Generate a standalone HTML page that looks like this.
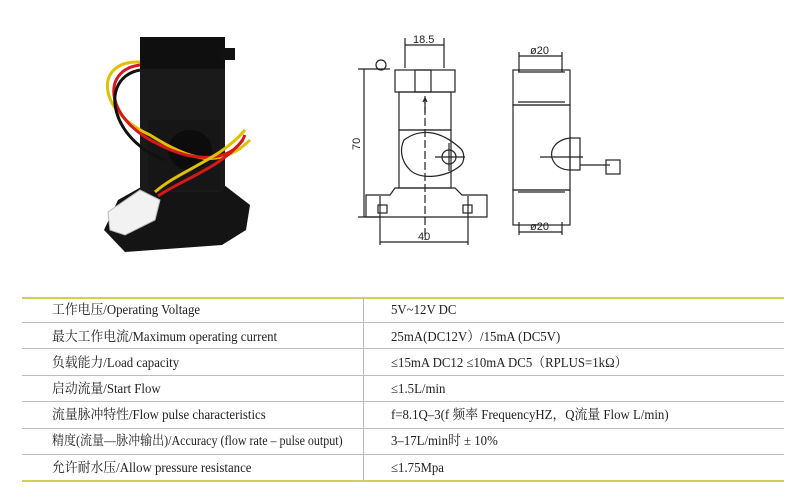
<!DOCTYPE html>
<html><head><meta charset="utf-8"><style>
body{margin:0;width:800px;height:500px;background:#fff;overflow:hidden;position:relative;font-family:"Liberation Serif","Noto Serif CJK SC",serif;}
.t{position:absolute;font-size:13.5px;line-height:16px;height:16px;color:#222;white-space:nowrap;transform:scaleX(0.95);transform-origin:left;}
.h{position:absolute;left:22px;width:762px;height:1px;background:#bdbdbd;}
</style></head><body>
<svg width="800" height="290" style="position:absolute;left:0;top:0">
 <g>
  <path d="M104,230 L118,200 L150,182 L215,178 L250,205 L246,230 L222,245 L125,252 Z" fill="#141414"/>
  <rect x="140" y="37" width="85" height="155" rx="6" fill="#1a1a1a"/>
  <rect x="140" y="37" width="85" height="32" fill="#0f0f0f"/>
  <rect x="220" y="48" width="15" height="12" fill="#111"/>
  <rect x="148" y="120" width="72" height="70" fill="#161616"/>
  <ellipse cx="190" cy="150" rx="22" ry="20" fill="#0c0c0c"/>
  <path d="M140,62 C95,60 95,110 150,135 C190,160 220,170 250,140" stroke="#e0c000" stroke-width="3" fill="none"/>
  <path d="M140,65 C100,70 105,120 160,145 C200,165 235,160 245,135" stroke="#d81818" stroke-width="3" fill="none"/>
  <path d="M140,70 C98,78 110,140 165,160" stroke="#111" stroke-width="3" fill="none"/>
  <path d="M155,192 C180,170 220,160 245,130" stroke="#e0c000" stroke-width="3" fill="none"/>
  <path d="M158,196 C185,178 220,168 243,140" stroke="#d81818" stroke-width="3" fill="none"/>
  <path d="M108,212 L140,190 L160,200 L155,220 L125,235 L110,230 Z" fill="#f2f2f2" stroke="#bbb"/>
 </g>
 <g stroke="#222" stroke-width="1.2" fill="none">
  <line x1="405" y1="38" x2="405" y2="68"/><line x1="444" y1="38" x2="444" y2="68"/>
  <line x1="405" y1="45" x2="444" y2="45"/>
  <text x="413" y="43" font-family="Liberation Sans" font-size="11" fill="#222" stroke="none">18.5</text>
  <circle cx="381" cy="65" r="5"/>
  <line x1="358" y1="69" x2="390" y2="69"/><line x1="358" y1="217" x2="380" y2="217"/>
  <line x1="364" y1="69" x2="364" y2="217"/>
  <text x="360" y="150" font-family="Liberation Sans" font-size="11" fill="#222" stroke="none" transform="rotate(-90 360 150)">70</text>
  <rect x="395" y="70" width="60" height="22"/>
  <rect x="415" y="70" width="16" height="22"/>
  <rect x="399" y="92" width="52" height="38"/>
  <rect x="399" y="130" width="52" height="58"/>
  <path d="M404,140 C420,128 440,130 460,148 C465,152 465,162 460,166 C445,178 420,180 410,170 C400,160 400,148 404,140 Z"/>
  <circle cx="449" cy="157" r="7"/>
  <line x1="435" y1="157" x2="465" y2="157"/><line x1="449" y1="143" x2="449" y2="171"/>
  <line x1="425" y1="96" x2="425" y2="240" stroke-dasharray="8,3"/>
  <path d="M423,102 L425,98 L427,102 M425,98 L425,113"/>
  <path d="M395,188 L455,188 L462,195 L487,195 L487,217 L366,217 L366,195 L390,195 Z"/>
  <rect x="378" y="205" width="9" height="8"/><rect x="463" y="205" width="9" height="8"/>
  <line x1="380" y1="196" x2="380" y2="245"/><line x1="468" y1="196" x2="468" y2="245"/>
  <line x1="380" y1="242" x2="468" y2="242"/>
  <text x="418" y="240" font-family="Liberation Sans" font-size="11" fill="#222" stroke="none">40</text>
  <line x1="519" y1="52" x2="519" y2="72"/><line x1="562" y1="52" x2="562" y2="72"/>
  <line x1="519" y1="56" x2="562" y2="56"/>
  <text x="530" y="54" font-family="Liberation Sans" font-size="11" fill="#222" stroke="none">ø20</text>
  <rect x="513" y="70" width="57" height="35"/>
  <line x1="518" y1="72" x2="565" y2="72"/><line x1="518" y1="102" x2="565" y2="102"/>
  <rect x="513" y="105" width="57" height="85"/>
  <rect x="513" y="190" width="57" height="35"/>
  <line x1="518" y1="192" x2="565" y2="192"/>
  <path d="M570,138 C555,140 550,150 552,158 C555,168 565,170 570,170"/>
  <rect x="570" y="138" width="10" height="32"/>
  <line x1="540" y1="157" x2="583" y2="157"/>
  <line x1="580" y1="165" x2="610" y2="165"/>
  <rect x="606" y="160" width="14" height="14"/>
  <line x1="519" y1="222" x2="519" y2="235"/><line x1="562" y1="222" x2="562" y2="235"/>
  <line x1="519" y1="232" x2="562" y2="232"/>
  <text x="530" y="230" font-family="Liberation Sans" font-size="11" fill="#222" stroke="none">ø20</text>
 </g>
</svg>
<div class="h" style="top:297px;background:#cfcf5a;height:2px"></div>
<div class="h" style="top:322px"></div>
<div class="h" style="top:348px"></div>
<div class="h" style="top:375px"></div>
<div class="h" style="top:401px"></div>
<div class="h" style="top:428px"></div>
<div class="h" style="top:454px"></div>
<div class="h" style="top:480px;background:#cfcf5a;height:2px"></div>
<div style="position:absolute;left:363px;top:298px;width:1px;height:183px;background:#bdbdbd"></div>
<div class="t" style="left:52px;top:302px">工作电压/Operating Voltage</div>
<div class="t" style="left:52px;top:329px">最大工作电流/Maximum operating current</div>
<div class="t" style="left:52px;top:355px">负载能力/Load capacity</div>
<div class="t" style="left:52px;top:381px">启动流量/Start Flow</div>
<div class="t" style="left:52px;top:407px">流量脉冲特性/Flow pulse characteristics</div>
<div class="t" style="left:52px;top:433px;transform:scaleX(0.89)">精度(流量—脉冲输出)/Accuracy (flow rate – pulse output)</div>
<div class="t" style="left:52px;top:460px">允许耐水压/Allow pressure resistance</div>
<div class="t" style="left:391px;top:302px">5V~12V DC</div>
<div class="t" style="left:391px;top:329px">25mA(DC12V）/15mA (DC5V)</div>
<div class="t" style="left:391px;top:355px">≤15mA DC12 ≤10mA DC5（RPLUS=1kΩ）</div>
<div class="t" style="left:391px;top:381px">≤1.5L/min</div>
<div class="t" style="left:391px;top:407px">f=8.1Q–3(f 频率 FrequencyHZ，Q流量 Flow L/min)</div>
<div class="t" style="left:391px;top:433px">3–17L/min时 ± 10%</div>
<div class="t" style="left:391px;top:460px">≤1.75Mpa</div>
</body></html>
